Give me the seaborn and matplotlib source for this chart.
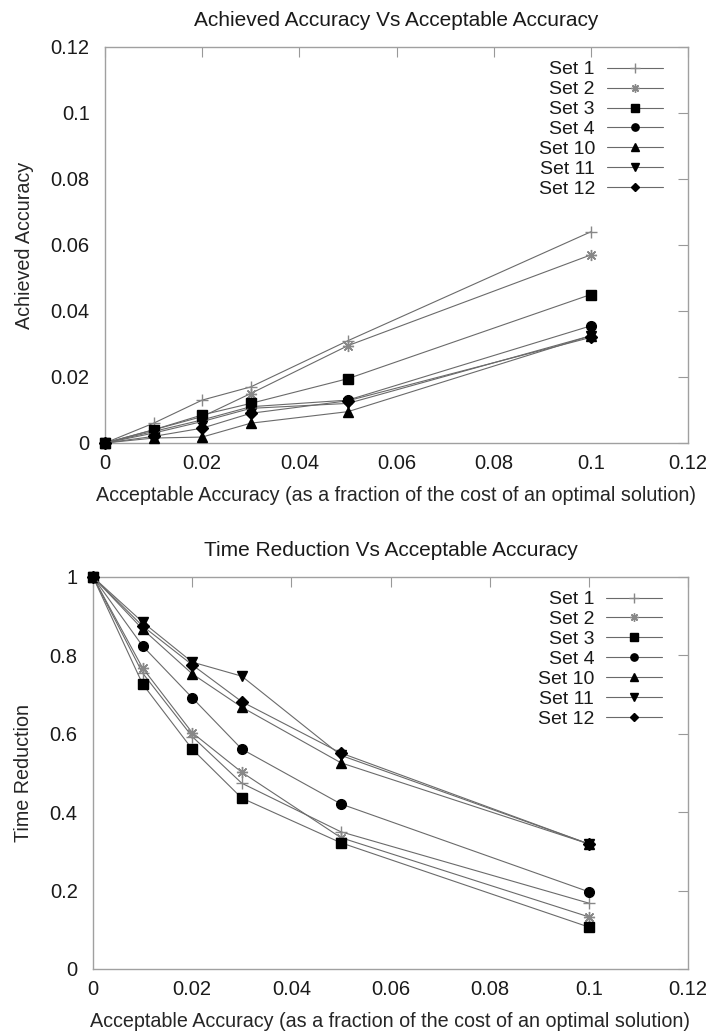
import pandas as pd
import seaborn as sns
import matplotlib.pyplot as plt

# acceptable accuracy values (x axis, both panels)
acceptable = [0, 0.01, 0.02, 0.03, 0.05, 0.1]
set_names = ['Set 1', 'Set 2', 'Set 3', 'Set 4', 'Set 10', 'Set 11', 'Set 12']

# panel 1: achieved accuracy
achieved_set1 = [0, 0.006, 0.013, 0.017, 0.031, 0.064]
achieved_set2 = [0, 0.004, 0.008, 0.015, 0.0295, 0.057]
achieved_set3 = [0, 0.004, 0.0085, 0.012, 0.0195, 0.045]
achieved_set4 = [0, 0.0035, 0.007, 0.011, 0.013, 0.0355]
achieved_set10 = [0, 0.0015, 0.0018, 0.006, 0.0095, 0.0325]
achieved_set11 = [0, 0.003, 0.0065, 0.0105, 0.012, 0.0325]
achieved_set12 = [0, 0.002, 0.0045, 0.009, 0.0128, 0.032]

# panel 2: time reduction
time_set1 = [1, 0.755, 0.593, 0.474, 0.35, 0.168]
time_set2 = [1, 0.768, 0.603, 0.502, 0.335, 0.133]
time_set3 = [1, 0.727, 0.561, 0.436, 0.322, 0.107]
time_set4 = [1, 0.824, 0.692, 0.561, 0.421, 0.197]
time_set10 = [1, 0.867, 0.753, 0.668, 0.526, 0.319]
time_set11 = [1, 0.885, 0.783, 0.747, 0.545, 0.319]
time_set12 = [1, 0.875, 0.776, 0.682, 0.551, 0.319]

achieved = [achieved_set1, achieved_set2, achieved_set3, achieved_set4,
            achieved_set10, achieved_set11, achieved_set12]
times = [time_set1, time_set2, time_set3, time_set4,
         time_set10, time_set11, time_set12]

x_ticks = [0, 0.02, 0.04, 0.06, 0.08, 0.1, 0.12]
x_ticklabels = ['0', '0.02', '0.04', '0.06', '0.08', '0.1', '0.12']
acc_ticks = [0, 0.02, 0.04, 0.06, 0.08, 0.1, 0.12]
acc_ticklabels = ['0', '0.02', '0.04', '0.06', '0.08', '0.1', '0.12']
time_ticks = [0, 0.2, 0.4, 0.6, 0.8, 1.0]
time_ticklabels = ['0', '0.2', '0.4', '0.6', '0.8', '1']

# gnuplot-like point styles
markers = ['+', (8, 2, 0), 's', 'o', '^', 'v', 'D']
marker_sizes = [9, 8, 7, 7, 7, 7, 6]
marker_colors = ['#888888', '#888888', 'black', 'black', 'black', 'black', 'black']
line_color = '#6a6a6a'

sns.set_style('white')
plt.rcParams['font.family'] = ['Liberation Sans', 'DejaVu Sans']
plt.rcParams['text.color'] = '#1a1a1a'

fig = plt.figure(figsize=(7.09, 10.33), dpi=100)
ax1 = fig.add_axes([105 / 709, 1 - 443 / 1033, 583 / 709, 396 / 1033])
ax2 = fig.add_axes([93 / 709, 1 - 969 / 1033, 595 / 709, 392 / 1033])


def draw_panel(ax, series, yticks, yticklabels, title, ylabel):
    for name, vals, m, ms, mc in zip(set_names, series, markers, marker_sizes, marker_colors):
        df = pd.DataFrame({'x': acceptable, 'y': vals})
        sns.lineplot(data=df, x='x', y='y', ax=ax, color=line_color, lw=0.8,
                     marker=m, markersize=ms, mfc=mc, mec=mc, mew=1.0,
                     label=name, clip_on=False, zorder=3)
    ax.set_xlim(0, 0.12)
    ax.set_ylim(yticks[0], yticks[-1])
    ax.set_xticks(x_ticks)
    ax.set_xticklabels(x_ticklabels)
    ax.set_yticks(yticks)
    ax.set_yticklabels(yticklabels)
    ax.tick_params(direction='in', length=7, width=0.8, color='#999999',
                   top=True, right=True, labelsize=14.5, labelcolor='#1a1a1a')
    ax.tick_params(axis='y', pad=11)
    ax.tick_params(axis='x', pad=8)
    for sp in ax.spines.values():
        sp.set_color('#a0a0a0')
        sp.set_linewidth(1.0)
    ax.set_title(title, fontsize=15, pad=15)
    ax.set_xlabel('Acceptable Accuracy (as a fraction of the cost of an optimal solution)',
                  fontsize=14.2, labelpad=9)
    ax.set_ylabel(ylabel, fontsize=14.2, labelpad=12)
    ax.legend(loc='upper right', bbox_to_anchor=(0.957, 0.965), frameon=False,
              markerfirst=False, fontsize=14, handlelength=2.9, handletextpad=0.6,
              labelspacing=0.12, borderpad=0, borderaxespad=0, markerscale=0.75)


draw_panel(ax1, achieved, acc_ticks, acc_ticklabels,
           'Achieved Accuracy Vs Acceptable Accuracy', 'Achieved Accuracy')
draw_panel(ax2, times, time_ticks, time_ticklabels,
           'Time Reduction Vs Acceptable Accuracy', 'Time Reduction')

fig.savefig('out.png', dpi=100)
